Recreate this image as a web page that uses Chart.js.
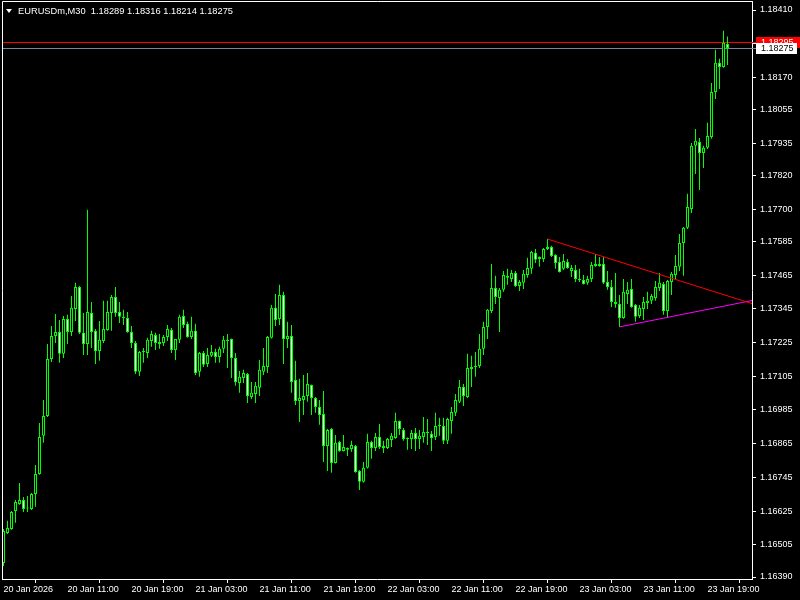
<!DOCTYPE html>
<html><head><meta charset="utf-8">
<script src="https://cdn.jsdelivr.net/npm/chart.js@4.4.1/dist/chart.umd.min.js"></script>
<style>html,body{margin:0;padding:0;background:#000;overflow:hidden}</style>
</head><body>
<canvas id="c" width="800" height="600"></canvas>
<script>
const headerText = "EURUSDm,M30  1.18289 1.18316 1.18214 1.18275";
const barIndex = Array.from({length: 182}, (_, i) => i);
const opens = [
1.16440,1.16547,1.16561,1.16625,1.16650,1.16664,1.16634,1.16632,1.16686,1.16757,
1.16893,1.16964,1.17167,1.17249,1.17263,1.17185,1.17309,1.17263,1.17345,1.17423,
1.17260,1.17220,1.17331,1.17267,1.17195,1.17231,1.17270,1.17331,1.17388,1.17334,
1.17317,1.17313,1.17263,1.17224,1.17121,1.17192,1.17188,1.17231,1.17252,1.17227,
1.17224,1.17245,1.17270,1.17199,1.17235,1.17320,1.17292,1.17245,1.17267,1.17121,
1.17188,1.17149,1.17178,1.17192,1.17174,1.17203,1.17235,1.17238,1.17170,1.17081,
1.17099,1.17113,1.17031,1.17042,1.17064,1.17121,1.17138,1.17242,1.17349,1.17309,
1.17395,1.17238,1.17249,1.17092,1.17017,1.17021,1.17035,1.17074,1.17028,1.16996,
1.16971,1.16857,1.16917,1.16796,1.16871,1.16839,1.16850,1.16846,1.16857,1.16768,
1.16729,1.16779,1.16871,1.16850,1.16889,1.16857,1.16850,1.16878,1.16885,1.16946,
1.16914,1.16885,1.16882,1.16903,1.16882,1.16889,1.16907,1.16900,1.16889,1.16928,
1.16928,1.16875,1.16946,1.16975,1.17014,1.17067,1.17031,1.17131,1.17138,1.17142,
1.17203,1.17281,1.17338,1.17420,1.17384,1.17413,1.17463,1.17452,1.17473,1.17427,
1.17438,1.17466,1.17488,1.17545,1.17530,1.17523,1.17559,1.17566,1.17537,1.17512,
1.17488,1.17512,1.17480,1.17484,1.17452,1.17448,1.17438,1.17452,1.17505,1.17498,
1.17505,1.17441,1.17423,1.17363,1.17363,1.17313,1.17398,1.17416,1.17359,1.17320,
1.17345,1.17366,1.17374,1.17384,1.17420,1.17434,1.17338,1.17441,1.17466,1.17495,
1.17580,1.17634,1.17701,1.17926,1.17940,1.17901,1.17919,1.17958,1.18118,1.18222,
1.18207,1.18289];
const highs = [
1.16561,1.16590,1.16625,1.16664,1.16725,1.16675,1.16679,1.16689,1.16789,1.16939,
1.17021,1.17220,1.17284,1.17327,1.17306,1.17320,1.17324,1.17391,1.17438,1.17427,
1.17331,1.17698,1.17370,1.17274,1.17302,1.17374,1.17374,1.17395,1.17423,1.17370,
1.17342,1.17334,1.17284,1.17231,1.17195,1.17206,1.17242,1.17267,1.17260,1.17256,
1.17252,1.17288,1.17277,1.17238,1.17324,1.17342,1.17299,1.17317,1.17292,1.17192,
1.17195,1.17206,1.17217,1.17203,1.17210,1.17249,1.17256,1.17240,1.17188,1.17124,
1.17128,1.17117,1.17085,1.17085,1.17163,1.17206,1.17249,1.17359,1.17398,1.17431,
1.17406,1.17299,1.17288,1.17160,1.17096,1.17110,1.17117,1.17076,1.17031,1.17021,
1.17053,1.16917,1.16921,1.16896,1.16875,1.16896,1.16851,1.16875,1.16860,1.16771,
1.16800,1.16900,1.16875,1.16903,1.16935,1.16875,1.16885,1.16903,1.16975,1.16948,
1.16921,1.16887,1.16914,1.16921,1.16914,1.16960,1.16953,1.16910,1.16975,1.16957,
1.16957,1.16957,1.16996,1.17042,1.17092,1.17078,1.17185,1.17178,1.17192,1.17256,
1.17299,1.17345,1.17505,1.17463,1.17420,1.17480,1.17488,1.17484,1.17480,1.17448,
1.17484,1.17527,1.17552,1.17559,1.17532,1.17562,1.17594,1.17570,1.17540,1.17530,
1.17541,1.17523,1.17502,1.17502,1.17488,1.17466,1.17463,1.17512,1.17541,1.17530,
1.17530,1.17480,1.17448,1.17473,1.17395,1.17452,1.17441,1.17452,1.17363,1.17359,
1.17388,1.17406,1.17398,1.17445,1.17473,1.17441,1.17448,1.17477,1.17537,1.17612,
1.17637,1.17755,1.17936,1.17986,1.17954,1.17926,1.18008,1.18150,1.18268,1.18236,
1.18336,1.18316];
const lows = [
1.16429,1.16543,1.16558,1.16583,1.16647,1.16622,1.16622,1.16629,1.16640,1.16754,
1.16868,1.16960,1.17156,1.17224,1.17153,1.17170,1.17220,1.17249,1.17302,1.17256,
1.17181,1.17181,1.17206,1.17149,1.17160,1.17224,1.17267,1.17267,1.17317,1.17295,
1.17288,1.17260,1.17206,1.17113,1.17106,1.17153,1.17170,1.17210,1.17199,1.17203,
1.17213,1.17231,1.17188,1.17163,1.17224,1.17277,1.17242,1.17238,1.17110,1.17103,
1.17138,1.17138,1.17174,1.17153,1.17153,1.17188,1.17135,1.17099,1.17071,1.17046,
1.17081,1.17010,1.17024,1.17010,1.17035,1.17110,1.17117,1.17240,1.17284,1.17288,
1.17149,1.17206,1.17046,1.17003,1.16942,1.16967,1.17014,1.16967,1.16975,1.16932,
1.16800,1.16768,1.16761,1.16794,1.16836,1.16837,1.16821,1.16836,1.16761,1.16700,
1.16727,1.16777,1.16811,1.16839,1.16846,1.16832,1.16846,1.16853,1.16883,1.16896,
1.16875,1.16843,1.16846,1.16839,1.16846,1.16868,1.16860,1.16839,1.16878,1.16893,
1.16864,1.16864,1.16900,1.16964,1.17010,1.16999,1.17028,1.17067,1.17103,1.17135,
1.17181,1.17238,1.17331,1.17363,1.17263,1.17406,1.17431,1.17441,1.17423,1.17409,
1.17416,1.17456,1.17470,1.17509,1.17495,1.17512,1.17555,1.17530,1.17488,1.17475,
1.17484,1.17488,1.17459,1.17441,1.17441,1.17432,1.17431,1.17441,1.17495,1.17495,
1.17434,1.17413,1.17352,1.17349,1.17281,1.17310,1.17363,1.17349,1.17299,1.17313,
1.17306,1.17345,1.17363,1.17374,1.17409,1.17324,1.17313,1.17395,1.17448,1.17480,
1.17463,1.17630,1.17687,1.17826,1.17769,1.17847,1.17915,1.17951,1.18093,1.18129,
1.18204,1.18214];
const closes = [
1.16554,1.16565,1.16622,1.16657,1.16664,1.16632,1.16636,1.16686,1.16757,1.16889,
1.16964,1.17167,1.17249,1.17263,1.17185,1.17309,1.17263,1.17349,1.17423,1.17260,
1.17220,1.17334,1.17263,1.17195,1.17235,1.17274,1.17334,1.17388,1.17331,1.17317,
1.17313,1.17263,1.17224,1.17121,1.17192,1.17195,1.17235,1.17256,1.17224,1.17220,
1.17245,1.17274,1.17199,1.17238,1.17317,1.17288,1.17245,1.17267,1.17117,1.17188,
1.17146,1.17181,1.17192,1.17174,1.17203,1.17235,1.17231,1.17170,1.17085,1.17103,
1.17117,1.17035,1.17046,1.17071,1.17128,1.17142,1.17245,1.17349,1.17306,1.17395,
1.17238,1.17249,1.17085,1.17017,1.17028,1.17035,1.17078,1.17028,1.16996,1.16967,
1.16857,1.16914,1.16796,1.16868,1.16839,1.16853,1.16843,1.16860,1.16764,1.16729,
1.16779,1.16871,1.16850,1.16889,1.16853,1.16850,1.16882,1.16893,1.16946,1.16917,
1.16882,1.16882,1.16903,1.16882,1.16893,1.16907,1.16903,1.16885,1.16928,1.16932,
1.16875,1.16953,1.16978,1.17021,1.17067,1.17035,1.17135,1.17138,1.17142,1.17203,
1.17281,1.17342,1.17420,1.17388,1.17413,1.17466,1.17456,1.17473,1.17427,1.17441,
1.17470,1.17491,1.17548,1.17520,1.17523,1.17559,1.17566,1.17534,1.17509,1.17477,
1.17516,1.17491,1.17491,1.17452,1.17448,1.17434,1.17452,1.17502,1.17498,1.17505,
1.17438,1.17423,1.17370,1.17370,1.17313,1.17406,1.17413,1.17352,1.17317,1.17349,
1.17370,1.17374,1.17391,1.17423,1.17438,1.17338,1.17445,1.17470,1.17498,1.17580,
1.17634,1.17708,1.17926,1.17944,1.17901,1.17919,1.17961,1.18118,1.18222,1.18207,
1.18293,1.18275];
const xTickIndex = [0,16,32,48,64,80,96,112,128,144,160,176];
const xTickLabels = ["20 Jan 2026","20 Jan 11:00","20 Jan 19:00","21 Jan 03:00","21 Jan 11:00","21 Jan 19:00","22 Jan 03:00","22 Jan 11:00","22 Jan 19:00","23 Jan 03:00","23 Jan 11:00","23 Jan 19:00"];
const yTickValues = [1.18410,1.18290,1.18170,1.18055,1.17935,1.17820,1.17700,1.17585,1.17465,1.17345,1.17225,1.17105,1.16985,1.16865,1.16745,1.16625,1.16505,1.16390];
const yTickLabels = ["1.18410","1.18290","1.18170","1.18055","1.17935","1.17820","1.17700","1.17585","1.17465","1.17345","1.17225","1.17105","1.16985","1.16865","1.16745","1.16625","1.16505","1.16390"];
const askPrice = 1.18295, askLabel = "1.18295";
const bidPrice = 1.18275, bidLabel = "1.18275";
const redTrendX = [136, 187.125], redTrendY = [1.17594, 1.17364];
const magentaTrendX = [154, 187.125], magentaTrendY = [1.17281, 1.17375];
const xRange = [-0.375, 187.125];
const yRange = [1.163829, 1.184421];

const FONT = {family: "'Liberation Sans', Arial, sans-serif", size: 9};
const LIME = '#00FF00';

const bgPlugin = {
  id: 'mt4',
  beforeDraw(chart) {
    const ctx = chart.ctx;
    ctx.save(); ctx.fillStyle = '#000'; ctx.fillRect(0, 0, chart.width, chart.height); ctx.restore();
  },
  beforeDatasetsDraw(chart) {
    const ctx = chart.ctx, a = chart.chartArea, y = chart.scales.y;
    ctx.save();
    ctx.lineWidth = 1;
    const ya = Math.round(y.getPixelForValue(askPrice)) + 0.5;
    const yb = Math.round(y.getPixelForValue(bidPrice)) + 0.5;
    ctx.strokeStyle = '#778899';
    ctx.beginPath(); ctx.moveTo(a.left, yb); ctx.lineTo(a.right + 4, yb); ctx.stroke();
    ctx.strokeStyle = '#FF0000';
    ctx.beginPath(); ctx.moveTo(a.left, ya); ctx.lineTo(a.right + 4, ya); ctx.stroke();
    ctx.restore();
  },
  afterDraw(chart) {
    const ctx = chart.ctx, a = chart.chartArea, y = chart.scales.y;
    ctx.save();
    ctx.strokeStyle = '#FFFFFF'; ctx.lineWidth = 1;
    ctx.beginPath();
    ctx.moveTo(a.left + 0.5, a.bottom); ctx.lineTo(a.left + 0.5, a.top + 0.5); ctx.lineTo(a.right, a.top + 0.5);
    ctx.stroke();
    ctx.font = FONT.size + "px " + FONT.family;
    ctx.textBaseline = 'middle'; ctx.textAlign = 'left';
    const ya = Math.round(y.getPixelForValue(askPrice));
    const yb = Math.round(y.getPixelForValue(bidPrice));
    ctx.fillStyle = '#FF0000'; ctx.fillRect(a.right + 4, ya - 5, 44, 11);
    ctx.fillStyle = '#FFFFFF'; ctx.fillText(askLabel, a.right + 9, ya + 0.5);
    ctx.fillStyle = '#FFFFFF'; ctx.fillRect(a.right + 4, yb - 5, 41, 11);
    ctx.fillStyle = '#000000'; ctx.fillText(bidLabel, a.right + 9, yb + 0.5);
    ctx.fillStyle = '#FFFFFF';
    ctx.beginPath(); ctx.moveTo(6, 9); ctx.lineTo(12, 9); ctx.lineTo(9, 13); ctx.closePath(); ctx.fill();
    ctx.font = "9.3px " + FONT.family;
    ctx.textBaseline = 'alphabetic';
    ctx.fillText(headerText, 18, 14);
    ctx.restore();
  }
};

new Chart(document.getElementById('c'), {
  type: 'bar',
  data: {
    datasets: [
      {
        type: 'line', order: -2,
        data: redTrendX.map((x, k) => ({x, y: redTrendY[k]})),
        borderColor: '#FF0000', borderWidth: 1, pointRadius: 0, fill: false, tension: 0
      },
      {
        type: 'line', order: -1,
        data: magentaTrendX.map((x, k) => ({x, y: magentaTrendY[k]})),
        borderColor: '#FF00FF', borderWidth: 1, pointRadius: 0, fill: false, tension: 0
      },
      {
        order: 0,
        data: barIndex.map(i => ({x: i, y: [opens[i], closes[i]]})),
        barThickness: 3, minBarLength: 1, grouped: false,
        borderWidth: 1, borderColor: LIME, borderSkipped: false, inflateAmount: 0,
        backgroundColor: c => (closes[c.dataIndex] < opens[c.dataIndex] ? '#FFFFFF' : '#000000')
      },
      {
        order: 1,
        data: barIndex.map(i => ({x: i, y: [lows[i], highs[i]]})),
        barThickness: 1, grouped: false, borderWidth: 0, inflateAmount: 0,
        backgroundColor: LIME
      }
    ]
  },
  options: {
    responsive: false, animation: false, devicePixelRatio: 1, events: [],
    layout: {padding: {left: 2, top: 1, right: 0, bottom: 0}},
    plugins: {legend: {display: false}, tooltip: {enabled: false}, title: {display: false}},
    scales: {
      x: {
        type: 'linear', position: 'bottom', min: xRange[0], max: xRange[1], offset: false,
        afterBuildTicks: s => { s.ticks = xTickIndex.map(v => ({value: v})); },
        afterFit: s => { s.height = 21; s.paddingLeft = 0; s.paddingRight = 0; s.paddingTop = 0; s.paddingBottom = 0; },
        grid: {display: true, drawOnChartArea: false, drawTicks: true, tickLength: 4, color: '#FFFFFF'},
        border: {display: true, color: '#FFFFFF', width: 1},
        ticks: {autoSkip: false, maxRotation: 0, minRotation: 0, align: 'start', padding: 1,
          color: '#FFFFFF', font: FONT, callback: (v, idx) => xTickLabels[idx]}
      },
      y: {
        type: 'linear', position: 'right', min: yRange[0], max: yRange[1],
        afterBuildTicks: s => { s.ticks = yTickValues.map(v => ({value: v})); },
        afterFit: s => { s.width = 48; s.paddingTop = 0; s.paddingBottom = 0; s.paddingLeft = 0; s.paddingRight = 0; },
        grid: {display: true, drawOnChartArea: false, drawTicks: true, tickLength: 4, color: '#FFFFFF'},
        border: {display: true, color: '#FFFFFF', width: 1},
        ticks: {autoSkip: false, padding: 4, color: '#FFFFFF', font: FONT,
          callback: (v, idx) => yTickLabels[idx]}
      }
    }
  },
  plugins: [bgPlugin]
});
</script>
</body></html>
